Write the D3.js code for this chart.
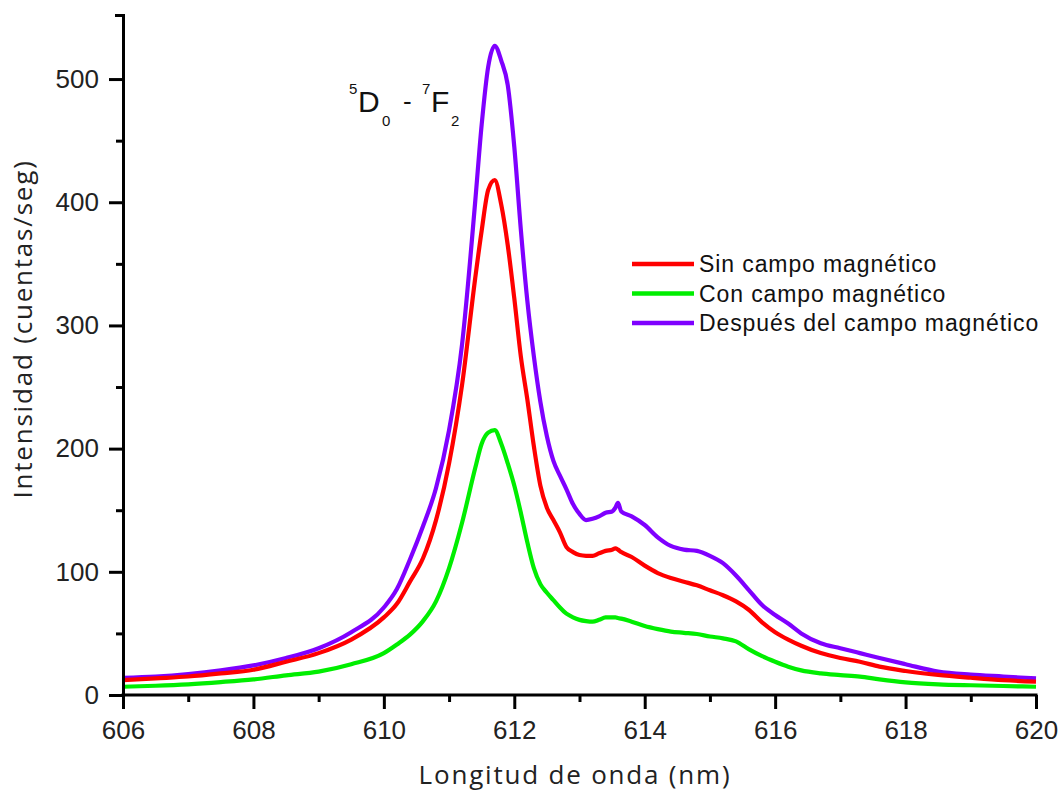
<!DOCTYPE html>
<html>
<head>
<meta charset="utf-8">
<script src="https://cdn.jsdelivr.net/npm/d3@7/dist/d3.min.js"></script>
<style>
  html, body { margin: 0; padding: 0; background: #fff; }
  svg { display: block; }
</style>
</head>
<body>
<svg id="chart" width="1061" height="796"></svg>
<script>
// ---- data ----
const wavelength = [606, 606.5, 607, 607.5, 608, 608.5, 609, 609.5, 610, 610.2, 610.4, 610.6, 610.8, 611.0, 611.2, 611.4, 611.5, 611.6, 611.7, 611.8, 611.9, 612.0, 612.1, 612.2, 612.3, 612.4, 612.5, 612.6, 612.7, 612.8, 612.9, 613.0, 613.1, 613.2, 613.3, 613.4, 613.5, 613.55, 613.59, 613.64, 613.8, 614.0, 614.2, 614.4, 614.6, 614.8, 615.0, 615.2, 615.4, 615.6, 615.8, 616.0, 616.2, 616.4, 616.7, 617.0, 617.3, 617.6, 618.0, 618.5, 619.0, 619.5, 620];
const sinCampo = [12, 13.5, 15, 17.5, 20.5, 27, 34, 45, 63, 74, 92, 111, 142, 188, 252, 338, 377, 410, 418, 398, 365, 322, 275, 240, 202, 170, 152, 142, 132, 120, 116, 113.6, 113, 113, 115, 117, 118, 119, 118, 116, 112, 105, 99, 95, 92, 89, 85, 81, 76, 69, 59, 51, 45, 40, 34, 30, 27, 23, 19.5, 16.3, 14, 12, 10.8];
const conCampo = [6.7, 7.5, 8.7, 10.5, 12.7, 16, 19, 25, 34, 41, 49, 60, 76, 103, 140, 184, 204, 213, 215, 204, 188, 170, 148, 124, 103, 90, 83, 77, 71, 66, 63, 61, 60, 59.5, 61, 63, 63, 63, 62.5, 62, 59.5, 56, 53.5, 51.5, 50.5, 49.5, 47.5, 46, 43.5, 37, 31.5, 27, 23, 20, 17.6, 16.2, 14.9, 12.7, 10.3, 8.7, 7.9, 7.3, 6.7];
const despues = [14, 15, 17, 20, 24, 30, 38, 51, 71, 86, 110, 137, 168, 215, 285, 400, 463, 510, 527, 515, 495, 445, 378, 320, 275, 238, 210, 190, 178, 167, 155, 147, 142, 143, 145, 148, 149, 152, 156, 149, 145, 138, 128, 121, 118, 117, 113, 107, 97, 85, 73, 65, 58, 50, 42, 38, 34, 30, 25, 19, 16.5, 15, 13.5];

const seriesNames = ["Sin campo magnético", "Con campo magnético", "Después del campo magnético"];
const seriesColors = ["#ff0000", "#00ee00", "#7f00ff"];
const seriesValues = [sinCampo, conCampo, despues];
const xTicks = [606, 608, 610, 612, 614, 616, 618, 620];
const xMinorTicks = [607, 609, 611, 613, 615, 617, 619];
const yTicks = [0, 100, 200, 300, 400, 500];
const yMinorTicks = [50, 150, 250, 350, 450];

(function () {
  const svg = d3.select("#chart");
  const pLeft = 123, pRight = 1036, pTop = 15, pBottom = 695;
  const x = d3.scaleLinear().domain([606, 620]).range([pLeft, pRight]);
  const y = d3.scaleLinear().domain([0, 552]).range([pBottom, pTop]);

  const line = d3.line().x(d => x(d[0])).y(d => y(d[1])).curve(d3.curveMonotoneX);
  const order = [2, 0, 1];
  order.forEach(i => {
    const pts = wavelength.map((w, k) => [w, seriesValues[i][k]]);
    svg.append("path").datum(pts)
      .attr("d", line)
      .attr("fill", "none")
      .attr("stroke", seriesColors[i])
      .attr("stroke-width", 4.2)
      .attr("stroke-linejoin", "round");
  });

  const tickFont = "'Liberation Sans', Arial, sans-serif";
  const xAxis = svg.append("g").attr("transform", `translate(0,${pBottom})`)
    .call(d3.axisBottom(x).tickValues(xTicks).tickSize(14).tickSizeOuter(0).tickPadding(12).tickFormat(d3.format("d")));
  svg.append("g").attr("transform", `translate(0,${pBottom})`)
    .call(d3.axisBottom(x).tickValues(xMinorTicks).tickSize(7).tickSizeOuter(0).tickFormat(""))
    .call(g => g.select(".domain").remove());
  svg.append("g").attr("transform", `translate(${pLeft},0)`)
    .call(d3.axisLeft(y).tickValues(yTicks).tickSize(14).tickSizeOuter(8).tickPadding(10).tickFormat(d3.format("d")));
  svg.append("g").attr("transform", `translate(${pLeft},0)`)
    .call(d3.axisLeft(y).tickValues(yMinorTicks).tickSize(7).tickSizeOuter(0).tickFormat(""))
    .call(g => g.select(".domain").remove());

  svg.selectAll(".domain, .tick line").attr("stroke", "#000").attr("stroke-width", 3);
  svg.selectAll(".tick text").attr("font-family", tickFont).attr("font-size", 26).attr("fill", "#222");
  xAxis.select(".domain").attr("d", `M${pLeft - 1.5},0H${pRight + 1.5}`);

  const titleFont = "'Open Sans', 'Liberation Sans', sans-serif";
  svg.append("text").attr("x", 575).attr("y", 784).attr("text-anchor", "middle")
    .attr("font-family", titleFont).attr("font-size", 26).attr("letter-spacing", 1.8).attr("fill", "#222")
    .text("Longitud de onda (nm)");
  svg.append("text").attr("transform", "translate(32,329) rotate(-90)").attr("text-anchor", "middle")
    .attr("font-family", titleFont).attr("font-size", 26).attr("letter-spacing", 1.8).attr("fill", "#222")
    .text("Intensidad (cuentas/seg)");

  const ann = svg.append("g").attr("font-family", tickFont).attr("fill", "#111");
  ann.append("text").attr("x", 349).attr("y", 94).attr("font-size", 15).text("5");
  ann.append("text").attr("x", 358).attr("y", 112).attr("font-size", 30).text("D");
  ann.append("text").attr("x", 382).attr("y", 126).attr("font-size", 15).text("0");
  ann.append("text").attr("x", 403).attr("y", 110).attr("font-size", 26).text("-");
  ann.append("text").attr("x", 422).attr("y", 94).attr("font-size", 15).text("7");
  ann.append("text").attr("x", 431).attr("y", 112).attr("font-size", 30).text("F");
  ann.append("text").attr("x", 451).attr("y", 126).attr("font-size", 15).text("2");

  const legend = svg.append("g");
  seriesNames.forEach((name, i) => {
    const ly = 264 + i * 29.5;
    legend.append("line").attr("x1", 632).attr("x2", 694).attr("y1", ly).attr("y2", ly)
      .attr("stroke", seriesColors[i]).attr("stroke-width", 4.5);
    legend.append("text").attr("x", 699).attr("y", ly).attr("dy", "0.35em")
      .attr("font-family", tickFont).attr("font-size", 23).attr("letter-spacing", 0.9)
      .attr("fill", "#111").text(name);
  });
})();
</script>
</body>
</html>
